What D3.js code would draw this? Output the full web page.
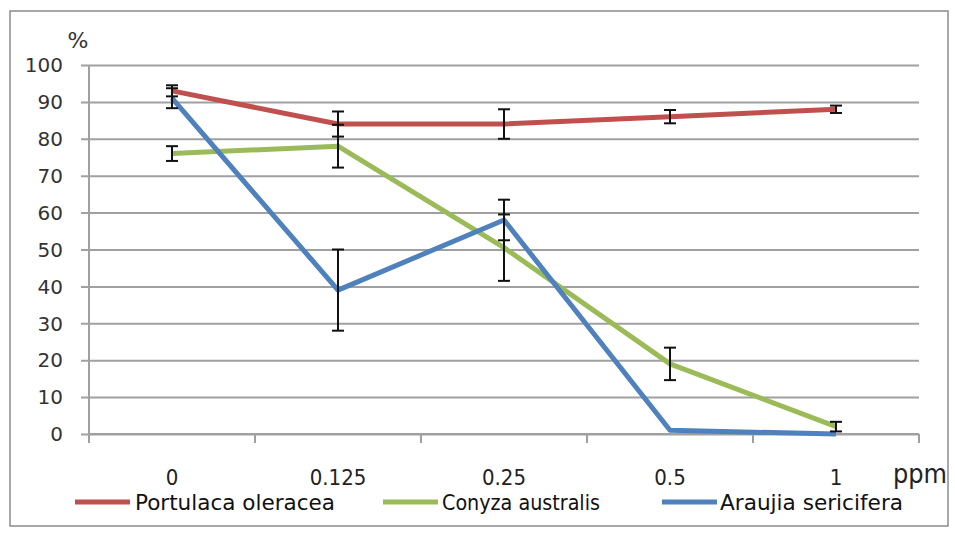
<!DOCTYPE html>
<html>
<head>
<meta charset="utf-8">
<script src="https://cdn.jsdelivr.net/npm/d3@7"></script>
<style>
  html, body { margin: 0; padding: 0; background: #fff; }
  svg { display: block; }
</style>
</head>
<body>
<svg id="chart" width="955" height="535"></svg>
<script>
// Dose levels (ppm) on the x axis
const categories = ["0", "0.125", "0.25", "0.5", "1"];

// Percentage per species at each dose, with error half-widths
const portulaca    = [93, 84, 84, 86, 88];
const portulacaErr = [1.5, 3.4, 4, 1.8, 1];
const conyza       = [76, 78, 50.5, 19, 2];
const conyzaErr    = [2, 5.8, 9, 4.4, 1.3];
const araujia      = [91, 39, 58, 1, 0];
const araujiaErr   = [2.7, 11, 5.5, 0, 0];

const yTicks = [0, 10, 20, 30, 40, 50, 60, 70, 80, 90, 100];

const seriesNames  = ["Portulaca oleracea", "Conyza australis", "Araujia sericifera"];
const seriesColors = ["#C0504D", "#9BBB59", "#4F81BD"];

const series = [
  { name: seriesNames[0], color: seriesColors[0], values: portulaca, errs: portulacaErr },
  { name: seriesNames[1], color: seriesColors[1], values: conyza,    errs: conyzaErr },
  { name: seriesNames[2], color: seriesColors[2], values: araujia,   errs: araujiaErr }
];

const svg = d3.select("#chart");
const condensed = "DejaVu Sans Condensed, DejaVu Sans, sans-serif";

// outer frame
svg.append("rect")
  .attr("x", 10).attr("y", 11).attr("width", 938).attr("height", 515)
  .attr("fill", "#fff").attr("stroke", "#8c8c8c").attr("stroke-width", 1.5);

const plot = { left: 89, right: 919, top: 65, bottom: 434 };

const x = d3.scaleBand().domain(categories).range([plot.left, plot.right]);
const y = d3.scaleLinear().domain([0, 100]).range([plot.bottom, plot.top]);

const gridColor = "#a0a0a0";

// horizontal gridlines with left tick stubs
const gy = svg.append("g").attr("transform", `translate(${plot.right},0)`);
gy.call(d3.axisLeft(y).tickValues(yTicks).tickSize(plot.right - plot.left + 8).tickFormat(""));
gy.select(".domain").remove();
gy.selectAll(".tick line").attr("stroke", gridColor).attr("stroke-width", 2);

// y tick labels
svg.append("g").selectAll("text")
  .data(yTicks)
  .join("text")
  .attr("x", 63)
  .attr("y", d => y(d))
  .attr("dy", "0.36em")
  .attr("text-anchor", "end")
  .attr("font-family", "DejaVu Sans, sans-serif")
  .attr("font-size", 20)
  .attr("fill", "#333")
  .text(d => d);

// vertical axis line
svg.append("line")
  .attr("x1", plot.left).attr("x2", plot.left)
  .attr("y1", plot.top).attr("y2", plot.bottom + 9)
  .attr("stroke", gridColor).attr("stroke-width", 2);

// x axis: ticks at band boundaries
const boundaries = categories.map(c => x(c)).concat([plot.right]);
const gx = svg.append("g");
gx.append("line")
  .attr("x1", plot.left).attr("x2", plot.right)
  .attr("y1", plot.bottom).attr("y2", plot.bottom)
  .attr("stroke", gridColor).attr("stroke-width", 2);
gx.selectAll("line.tk")
  .data(boundaries)
  .join("line")
  .attr("class", "tk")
  .attr("x1", d => d).attr("x2", d => d)
  .attr("y1", plot.bottom).attr("y2", plot.bottom + 9)
  .attr("stroke", gridColor).attr("stroke-width", 2);

// category labels
svg.append("g").selectAll("text")
  .data(categories)
  .join("text")
  .attr("x", d => x(d) + x.bandwidth() / 2)
  .attr("y", 485)
  .attr("text-anchor", "middle")
  .attr("font-family", condensed)
  .attr("font-size", 22)
  .attr("fill", "#222")
  .text(d => d);

// unit labels
svg.append("text")
  .attr("x", 893).attr("y", 483)
  .attr("font-family", condensed)
  .attr("font-size", 26)
  .attr("textLength", 54).attr("lengthAdjust", "spacingAndGlyphs")
  .attr("fill", "#222")
  .text("ppm");

svg.append("text")
  .attr("x", 78).attr("y", 48)
  .attr("text-anchor", "middle")
  .attr("font-family", "DejaVu Sans, sans-serif")
  .attr("font-size", 22)
  .attr("fill", "#333")
  .text("%");

// series lines
const line = d3.line()
  .x((d, i) => x(categories[i]) + x.bandwidth() / 2)
  .y(d => y(d));

svg.append("g").selectAll("path")
  .data(series)
  .join("path")
  .attr("d", s => line(s.values))
  .attr("fill", "none")
  .attr("stroke", s => s.color)
  .attr("stroke-width", 5)
  .attr("stroke-linejoin", "round");

// error bars
const capHalf = 6;
const eb = svg.append("g").attr("stroke", "#111").attr("stroke-width", 2);
series.forEach(s => {
  s.values.forEach((v, i) => {
    const e = s.errs[i];
    if (!e) return;
    const cx = x(categories[i]) + x.bandwidth() / 2;
    const yt = y(v + e), yb = y(v - e);
    eb.append("line").attr("x1", cx).attr("x2", cx).attr("y1", yt).attr("y2", yb);
    eb.append("line").attr("x1", cx - capHalf).attr("x2", cx + capHalf).attr("y1", yt).attr("y2", yt);
    eb.append("line").attr("x1", cx - capHalf).attr("x2", cx + capHalf).attr("y1", yb).attr("y2", yb);
  });
});

// legend
const legendItems = [
  { lx: 75,  tx: 135, tw: 200 },
  { lx: 383, tx: 442, tw: 158 },
  { lx: 662, tx: 720, tw: 183 }
];
const lg = svg.append("g");
series.forEach((s, i) => {
  const it = legendItems[i];
  lg.append("line")
    .attr("x1", it.lx).attr("x2", it.lx + 55)
    .attr("y1", 502).attr("y2", 502)
    .attr("stroke", s.color).attr("stroke-width", 5);
  lg.append("text")
    .attr("x", it.tx).attr("y", 510)
    .attr("font-family", condensed)
    .attr("font-size", 21)
    .attr("textLength", it.tw).attr("lengthAdjust", "spacingAndGlyphs")
    .attr("fill", "#111")
    .text(s.name);
});
</script>
</body>
</html>
